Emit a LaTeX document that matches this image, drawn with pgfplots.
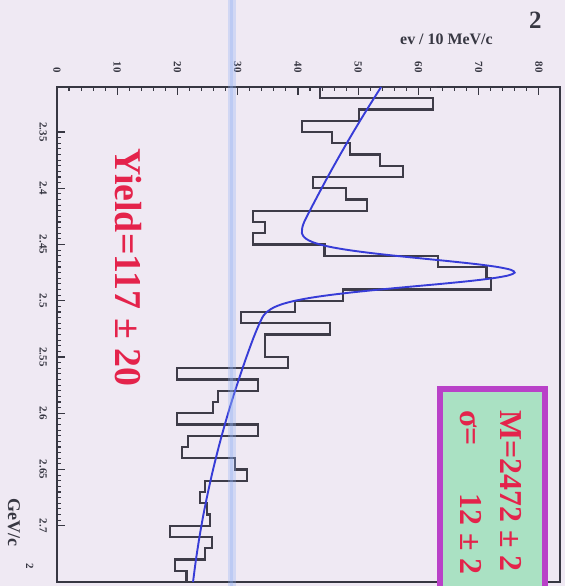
\documentclass[border=0pt]{standalone}
\usepackage{pgfplots}
\usepackage{pgfplotstable}
\pgfplotsset{compat=1.18}
\usepackage{fontspec}
\setmainfont{Liberation Serif}
\definecolor{bgc}{RGB}{239,233,243}
\definecolor{framec}{RGB}{55,55,66}
\definecolor{histc}{RGB}{62,60,72}
\definecolor{fitc}{RGB}{55,60,215}
\definecolor{vlinec}{RGB}{140,175,245}
\definecolor{redc}{RGB}{228,35,75}
\definecolor{boxborder}{RGB}{185,65,200}
\definecolor{boxfill}{RGB}{170,225,195}

\pgfplotstableread{
cnt mhi
63.0 2.31
43.6 2.32
62.4 2.33
50.2 2.34
40.6 2.35
45.6 2.36
48.6 2.37
53.6 2.38
57.4 2.39
42.5 2.40
48.0 2.41
51.4 2.42
32.5 2.43
34.5 2.44
32.5 2.45
44.4 2.46
63.2 2.47
71.3 2.48
72.1 2.49
47.5 2.50
39.5 2.51
30.6 2.52
45.3 2.53
34.5 2.54
34.5 2.55
38.3 2.56
19.9 2.57
33.4 2.58
26.7 2.59
25.9 2.60
19.9 2.61
33.4 2.62
21.7 2.63
20.7 2.64
29.5 2.65
31.5 2.66
24.5 2.67
23.7 2.68
24.9 2.69
25.4 2.70
18.7 2.71
25.7 2.72
24.5 2.73
19.6 2.74
21.5 2.75
}\histtab

\pgfplotstableread{
fit m
53.80 2.31
51.45 2.33
49.19 2.35
47.02 2.37
44.93 2.39
42.94 2.41
41.97 2.42
41.03 2.43
40.72 2.435
40.66 2.44
40.88 2.4425
41.37 2.445
42.26 2.4475
43.65 2.45
45.70 2.4525
48.47 2.455
51.99 2.4575
56.15 2.46
60.73 2.4625
65.40 2.465
69.70 2.4675
73.15 2.47
75.34 2.4725
75.97 2.475
74.92 2.4775
72.32 2.48
68.45 2.4825
63.74 2.485
58.65 2.4875
53.65 2.49
49.08 2.4925
45.15 2.495
41.96 2.4975
39.50 2.50
37.68 2.5025
36.38 2.505
35.47 2.5075
34.84 2.51
34.07 2.515
32.83 2.53
31.45 2.55
30.17 2.57
28.97 2.59
27.86 2.61
26.84 2.63
25.91 2.65
25.07 2.67
24.31 2.69
23.65 2.71
23.07 2.73
22.58 2.75
}\fittab

\begin{document}
\begin{tikzpicture}[x=1bp,y=1bp]
\path[use as bounding box, clip] (0,0) rectangle (565,586);
\fill[bgc] (0,0) rectangle (565,586);
\begin{axis}[
  at={(57bp,4bp)}, anchor=south west,
  scale only axis, width=503bp, height=495bp,
  xmin=0, xmax=83.5, ymin=2.31, ymax=2.75, y dir=reverse,
  clip=false,
  axis line style={draw=framec, line width=1.8bp},
  xtick={0,10,20,30,40,50,60,70,80},
  minor x tick num=4,
  ytick={2.35,2.4,2.45,2.5,2.55,2.6,2.65,2.7},
  minor y tick num=9,
  xtick pos=right, xticklabel pos=right,
  ytick pos=left, yticklabel pos=left,
  tick align=inside,
  major tick length=8bp, minor tick length=4bp,
  every tick/.style={draw=framec, line width=1.1bp},
  /pgf/number format/assume math mode=true,
  xticklabel style={rotate=-90, anchor=east, inner xsep=14bp, font=\bfseries\fontsize{11}{11}\selectfont, text=framec},
  yticklabel style={rotate=-90, anchor=north, inner ysep=10bp, font=\bfseries\fontsize{11}{11}\selectfont, text=framec,
    /pgf/number format/fixed, /pgf/number format/precision=2},
]
\addplot[const plot, draw=histc, line width=2.1bp, forget plot] table[x=cnt, y=mhi] {\histtab};
\addplot[smooth, draw=fitc, line width=1.9bp, forget plot] table[x=fit, y=m] {\fittab};
\addplot[draw=vlinec, line width=8bp, opacity=0.3, forget plot] coordinates {(29,2.2) (29,2.86)};
\addplot[draw=vlinec, line width=3bp, opacity=0.3, forget plot] coordinates {(29,2.2) (29,2.86)};
\end{axis}
% annotations
\node[rotate=-90, anchor=base west, inner sep=0pt, text=redc, font=\bfseries\fontsize{38}{38}\selectfont] at (115,438) {Yield=117 ± 20};
\draw[draw=boxborder, line width=6bp, fill=boxfill] (440,-20) rectangle (545,197);
\node[rotate=-90, anchor=base west, inner sep=0pt, text=redc, font=\bfseries\fontsize{32}{32}\selectfont] at (500,176) {M=2472 ± 2};
\node[rotate=-90, anchor=base west, inner sep=0pt, text=redc, font=\bfseries\fontsize{32}{32}\selectfont] at (460,176) {σ=};
\node[rotate=-90, anchor=base west, inner sep=0pt, text=redc, font=\bfseries\fontsize{32}{32}\selectfont] at (460,93) {12 ± 2};
\node[anchor=base west, inner sep=0pt, text=framec, font=\bfseries\fontsize{16}{16}\selectfont] at (400,541) {ev / 10 MeV/c};
\node[anchor=base west, inner sep=0pt, text=framec, font=\bfseries\fontsize{25}{25}\selectfont] at (529,557) {2};
\node[rotate=-90, anchor=base west, inner sep=0pt, text=framec, font=\bfseries\fontsize{18}{18}\selectfont] at (8,88) {GeV/c};
\node[rotate=-90, anchor=base west, inner sep=0pt, text=framec, font=\bfseries\fontsize{11}{11}\selectfont] at (26,23) {2};
\end{tikzpicture}
\end{document}
